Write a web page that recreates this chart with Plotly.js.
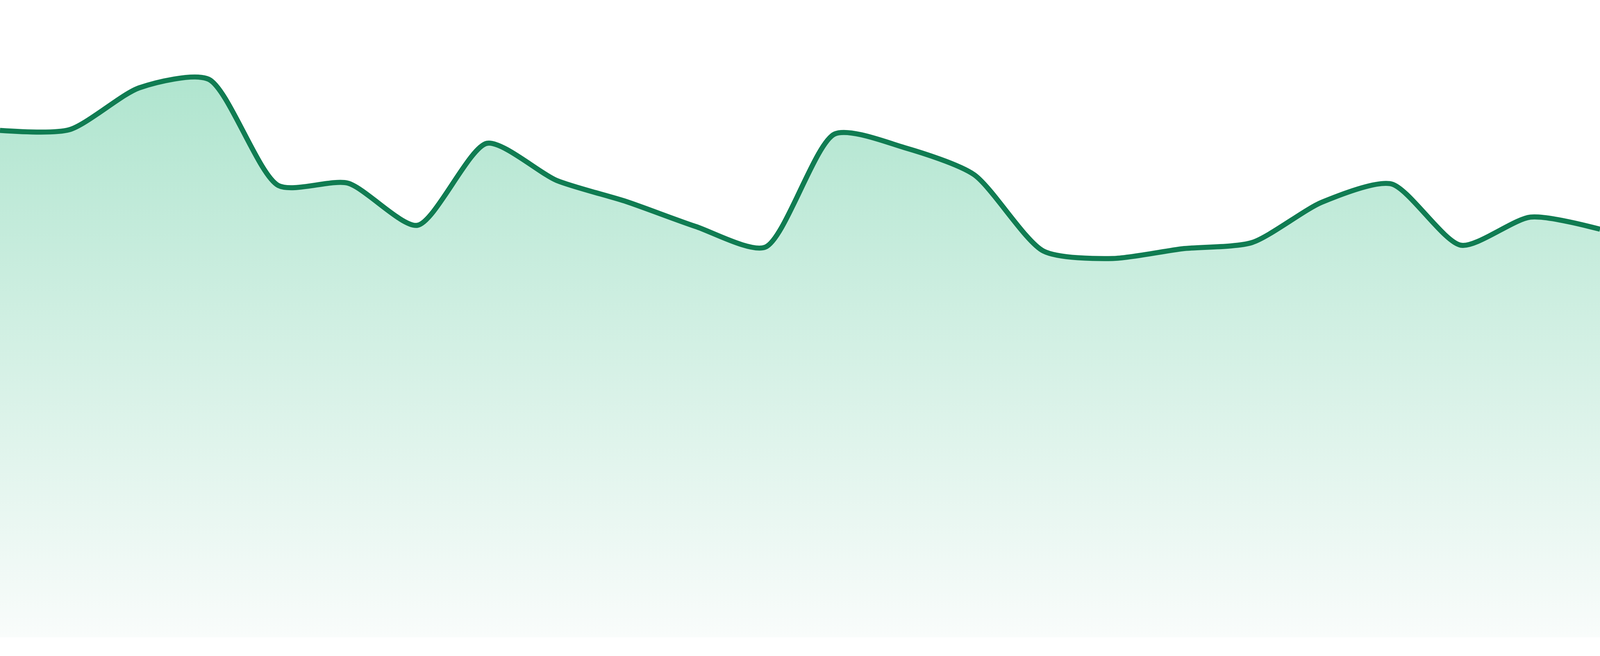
<!DOCTYPE html>
<html>
<head>
<meta charset="utf-8">
<script src="https://cdn.plot.ly/plotly-3.0.1.min.js"></script>
<style>
  html, body { margin: 0; padding: 0; background: #ffffff; overflow: hidden; }
  #chart { width: 100vw; height: 100vh; }
</style>
</head>
<body>
<div id="chart"></div>
<script>
// Category positions (24 evenly spaced samples)
const categories = [0,1,2,3,4,5,6,7,8,9,10,11,12,13,14,15,16,17,18,19,20,21,22,23];
// Series values
const values = [1298,1300,1407,1429,1157,1163,1055,1265,1170,1116,1052,999,1289,1254,1185,989,970,995,1011,1114,1161,1004,1076,1045];

const lineColor = 'rgb(16,124,82)';
const fillTop = 'rgb(176,229,207)';
const fillBottom = 'rgb(249,252,251)';

const W = window.innerWidth, H = window.innerHeight;
const k = H / 1680;

const trace = {
  x: categories,
  y: values,
  type: 'scatter',
  mode: 'lines',
  line: { color: lineColor, width: 13 * k, shape: 'spline', smoothing: 0.7 },
  fill: 'tozeroy',
  fillgradient: {
    type: 'vertical',
    colorscale: [[0, fillBottom], [1, fillTop]],
    start: 0,
    stop: 1430
  },
  hoverinfo: 'skip'
};

const layout = {
  width: W,
  height: H,
  margin: { l: 0, r: 0, t: 0, b: 48 * k, pad: 0 },
  paper_bgcolor: '#ffffff',
  plot_bgcolor: '#ffffff',
  showlegend: false,
  xaxis: { range: [0, 23], visible: false, showgrid: false, zeroline: false, fixedrange: true },
  yaxis: { range: [0, 1632], visible: false, showgrid: false, zeroline: false, fixedrange: true },
  hovermode: false
};

Plotly.newPlot('chart', [trace], layout, { staticPlot: true, displayModeBar: false });
</script>
</body>
</html>
